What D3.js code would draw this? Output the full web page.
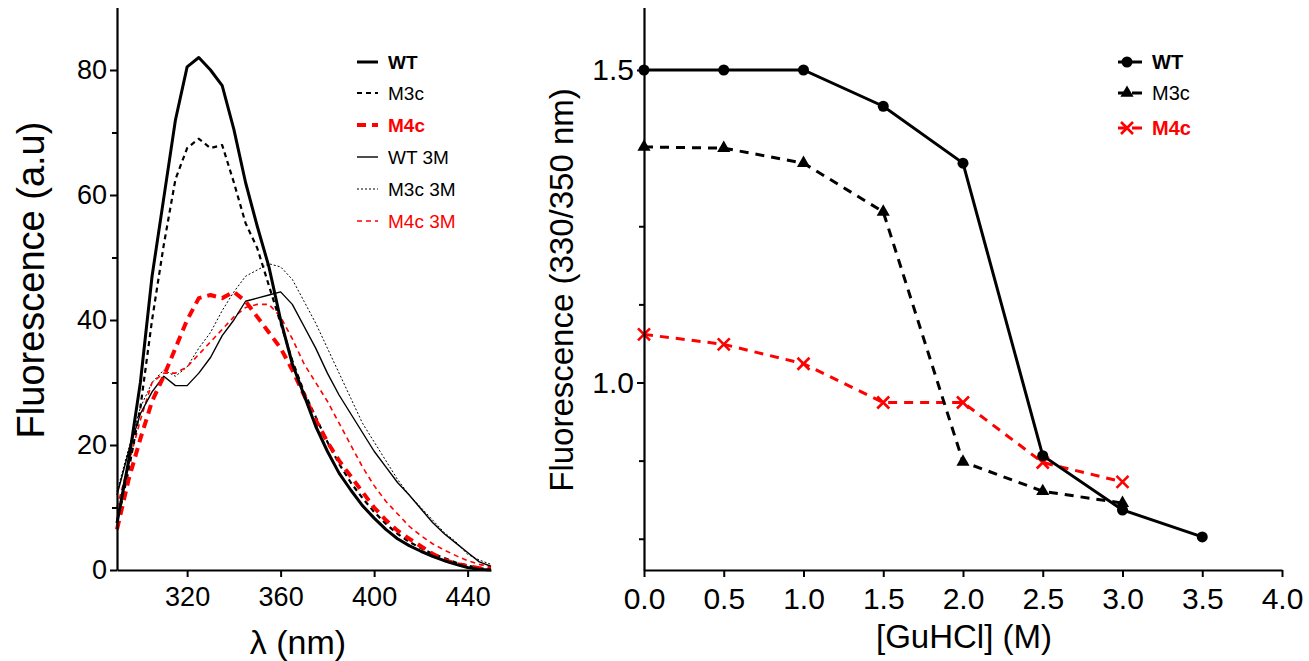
<!DOCTYPE html>
<html>
<head>
<meta charset="utf-8">
<script src="https://cdn.jsdelivr.net/npm/d3@7/dist/d3.min.js"></script>
<style>
  body { margin: 0; background: #fff; }
  svg { display: block; }
  text { font-family: "Liberation Sans", Arial, sans-serif; }
</style>
</head>
<body>
<svg width="1309" height="661"></svg>
<script>
// ---- data: emission spectra (left) ----
const lambda = [290, 295, 300, 305, 310, 315, 320, 325, 330, 335, 340, 345, 350, 355, 360, 365, 370,
  375, 380, 385, 390, 395, 400, 405, 410, 415, 420, 425, 430, 435, 440, 445, 450];
const specWT = [7.5, 17.5, 30, 47, 59.5, 72, 80.5, 82, 80, 77.5, 70.5, 62, 55, 48.5, 40, 33, 28,
  23, 19, 15.5, 12.8, 10.3, 8.3, 6.5, 5, 3.9, 3, 2.2, 1.5, 0.9, 0.4, 0.1, 0];
const specM3c = [7.5, 16, 26, 40, 52, 62.5, 67.5, 69, 67.5, 68, 62, 55.5, 51.5, 45.5, 39.5, 33.5, 28.5,
  24.5, 20.5, 17, 14, 11.5, 9.3, 7.4, 5.8, 4.5, 3.5, 2.6, 1.9, 1.2, 0.7, 0.3, 0.1];
const specM4c = [6.5, 14.5, 21, 27, 31, 35.5, 40, 43.5, 44, 43.5, 44.5, 43, 40.5, 38, 35.5, 32, 28,
  24, 20.5, 17.5, 15, 12.5, 10, 8, 6.3, 5, 3.8, 2.6, 1.6, 1, 0.6, 0.3, 0.2];
const specWT3M = [12, 19, 25, 28.5, 31, 29.5, 29.5, 31.5, 34, 37.5, 40, 43, 43.5, 44, 44.5, 42.5, 39,
  35.5, 31.5, 28, 25, 22, 19, 16.5, 14, 12, 9.8, 7.6, 5.8, 4.3, 2.8, 1.3, 0.6];
const specM3c3M = [12.5, 19.5, 26, 30, 32, 31, 32.5, 35.5, 38, 41.5, 44.5, 47, 48, 49, 48.5, 46.5, 43,
  39.5, 35.5, 31.5, 27.5, 23.5, 20.5, 17.5, 14.5, 12, 10, 8, 6, 4.5, 2.5, 1.6, 0.9];
const specM4c3M = [10, 17, 24, 30, 31.5, 31.5, 32.5, 34.5, 36.5, 38.5, 40.5, 42, 42.5, 42.5, 40.5, 37, 33,
  30, 27, 23.5, 20, 16.5, 13.5, 11, 9, 7, 5.5, 4.2, 3.2, 2.3, 1.5, 0.9, 0.5];
const spectraNames = ["WT", "M3c", "M4c", "WT 3M", "M3c 3M", "M4c 3M"];
const spectraValues = [specWT, specM3c, specM4c, specWT3M, specM3c3M, specM4c3M];
const lambdaTicks = [320, 360, 400, 440];
const fluoTicks = [0, 20, 40, 60, 80];
const fluoMinor = [10, 30, 50, 70];

// ---- data: GuHCl denaturation (right) ----
const guhcl = [0, 0.5, 1.0, 1.5, 2.0, 2.5, 3.0, 3.5];
const ratioWT = [1.5, 1.5, 1.5, 1.442, 1.351, 0.883, 0.796, 0.753];
const ratioM3c = [1.377, 1.375, 1.351, 1.273, 0.873, 0.826, 0.807];
const ratioM4c = [1.077, 1.061, 1.03, 0.968, 0.968, 0.872, 0.841];
const ratioNames = ["WT", "M3c", "M4c"];
const ratioValues = [ratioWT, ratioM3c, ratioM4c];
const guTicks = [0, 0.5, 1.0, 1.5, 2.0, 2.5, 3.0, 3.5, 4.0];
const ratioTicks = [1.0, 1.5];
const ratioMinor = [0.75, 0.875, 1.125, 1.25, 1.375];

// ---- styles ----
const specStyle = {
  "WT":     { color: "#000", width: 3,   dash: null,  bold: true },
  "M3c":    { color: "#000", width: 2.2, dash: "5,4", bold: false },
  "M4c":    { color: "#f00", width: 4,   dash: "9,6", bold: true },
  "WT 3M":  { color: "#000", width: 1.4, dash: null,  bold: false },
  "M3c 3M": { color: "#000", width: 1,   dash: "2,2", bold: false },
  "M4c 3M": { color: "#f00", width: 1.6, dash: "5,4", bold: false }
};
const ratioStyle = {
  "WT":  { color: "#000", dash: null,  bold: true },
  "M3c": { color: "#000", dash: "9,7", bold: false },
  "M4c": { color: "#f00", dash: "9,7", bold: true }
};

const svg = d3.select("svg");

function styleAxis(g) {
  g.select(".domain").attr("stroke", "#000").attr("stroke-width", 2.2);
  g.selectAll(".tick line").attr("stroke", "#000").attr("stroke-width", 2);
}

// ================= LEFT PANEL =================
const xL = d3.scaleLinear().domain([290, 450]).range([117, 491]);
const yL = d3.scaleLinear().domain([0, 90]).range([570, 7.5]);

const left = svg.append("g");

const line = d3.line()
  .x((d, i) => xL(lambda[i]))
  .y(d => yL(d));

// draw thin curves first, thick ones on top
const drawOrder = [4, 5, 3, 1, 2, 0];
drawOrder.forEach(k => {
  const st = specStyle[spectraNames[k]];
  left.append("path")
    .datum(spectraValues[k])
    .attr("d", line)
    .attr("fill", "none")
    .attr("stroke", st.color)
    .attr("stroke-width", st.width)
    .attr("stroke-dasharray", st.dash)
    .attr("stroke-linejoin", "round");
});

const xAxL = left.append("g")
  .attr("transform", "translate(0,570)")
  .call(d3.axisBottom(xL).tickValues(lambdaTicks).tickSize(7).tickSizeOuter(0).tickPadding(10));
styleAxis(xAxL);
xAxL.selectAll("text").attr("font-size", 27).attr("fill", "#000");

const yAxL = left.append("g")
  .attr("transform", "translate(117,0)")
  .call(d3.axisLeft(yL).tickValues(fluoTicks).tickSize(7).tickSizeOuter(0).tickPadding(3));
styleAxis(yAxL);
yAxL.selectAll("text").attr("font-size", 27).attr("fill", "#000");

const yMinL = left.append("g")
  .attr("transform", "translate(117,0)")
  .call(d3.axisLeft(yL).tickValues(fluoMinor).tickSize(5).tickFormat(""));
yMinL.select(".domain").remove();
styleAxis(yMinL);

left.append("text")
  .attr("transform", "translate(44,280) rotate(-90)")
  .attr("text-anchor", "middle")
  .attr("font-size", 38)
  .text("Fluorescence (a.u)");

left.append("text")
  .attr("x", 298).attr("y", 654)
  .attr("text-anchor", "middle")
  .attr("font-size", 34)
  .text("λ (nm)");

// left legend
const legL = left.append("g");
const legLY = [62, 93, 125, 157, 189, 221];
spectraNames.forEach((name, i) => {
  const st = specStyle[name];
  legL.append("line")
    .attr("x1", 357).attr("x2", 378)
    .attr("y1", legLY[i]).attr("y2", legLY[i])
    .attr("stroke", st.color)
    .attr("stroke-width", st.width)
    .attr("stroke-dasharray", st.dash);
  legL.append("text")
    .attr("x", 388).attr("y", legLY[i] + 7)
    .attr("font-size", 19)
    .attr("font-weight", st.bold ? "bold" : "normal")
    .attr("fill", st.color)
    .text(name);
});

// ================= RIGHT PANEL =================
const xR = d3.scaleLinear().domain([0, 4]).range([644, 1282]);
const yR = d3.scaleLinear().domain([0.7, 1.6]).range([570, 7.5]);

const right = svg.append("g");

const lineR = d3.line()
  .x((d, i) => xR(guhcl[i]))
  .y(d => yR(d));

function drawMarker(g, name, cx, cy) {
  const st = ratioStyle[name];
  if (name === "WT") {
    g.append("circle").attr("cx", cx).attr("cy", cy).attr("r", 5.5).attr("fill", st.color);
  } else if (name === "M3c") {
    g.append("path")
      .attr("d", d3.symbol().type(d3.symbolTriangle).size(75)())
      .attr("transform", `translate(${cx},${cy})`)
      .attr("fill", st.color);
  } else {
    const s = 6;
    g.append("path")
      .attr("d", `M${cx - s},${cy - s}L${cx + s},${cy + s}M${cx - s},${cy + s}L${cx + s},${cy - s}`)
      .attr("stroke", st.color).attr("stroke-width", 2.6).attr("fill", "none");
  }
}

[2, 1, 0].forEach(k => {
  const name = ratioNames[k];
  const st = ratioStyle[name];
  right.append("path")
    .datum(ratioValues[k])
    .attr("d", lineR)
    .attr("fill", "none")
    .attr("stroke", st.color)
    .attr("stroke-width", 3)
    .attr("stroke-dasharray", st.dash);
  ratioValues[k].forEach((v, i) => drawMarker(right, name, xR(guhcl[i]), yR(v)));
});

const xAxR = right.append("g")
  .attr("transform", "translate(0,570)")
  .call(d3.axisBottom(xR).tickValues(guTicks).tickSize(7).tickSizeOuter(0).tickPadding(11)
    .tickFormat(d3.format(".1f")));
styleAxis(xAxR);
xAxR.selectAll("text").attr("font-size", 30).attr("fill", "#000");

const yAxR = right.append("g")
  .attr("transform", "translate(644,0)")
  .call(d3.axisLeft(yR).tickValues(ratioTicks).tickSize(7).tickSizeOuter(0).tickPadding(3)
    .tickFormat(d3.format(".1f")));
styleAxis(yAxR);
yAxR.selectAll("text").attr("font-size", 30).attr("fill", "#000");

const yMinR = right.append("g")
  .attr("transform", "translate(644,0)")
  .call(d3.axisLeft(yR).tickValues(ratioMinor).tickSize(5).tickFormat(""));
yMinR.select(".domain").remove();
styleAxis(yMinR);

right.append("text")
  .attr("transform", "translate(573,290) rotate(-90)")
  .attr("text-anchor", "middle")
  .attr("font-size", 33)
  .text("Fluorescence (330/350 nm)");

right.append("text")
  .attr("x", 964).attr("y", 648)
  .attr("text-anchor", "middle")
  .attr("font-size", 33)
  .text("[GuHCl] (M)");

// right legend
const legR = right.append("g");
const legRY = [62, 93, 128];
ratioNames.forEach((name, i) => {
  const st = ratioStyle[name];
  legR.append("line")
    .attr("x1", 1118).attr("x2", 1142)
    .attr("y1", legRY[i]).attr("y2", legRY[i])
    .attr("stroke", st.color)
    .attr("stroke-width", 3)
    .attr("stroke-dasharray", st.dash ? "10,4" : null);
  drawMarker(legR, name, 1127, legRY[i]);
  legR.append("text")
    .attr("x", 1152).attr("y", legRY[i] + 7)
    .attr("font-size", 20)
    .attr("font-weight", st.bold ? "bold" : "normal")
    .attr("fill", st.color)
    .text(name);
});
</script>
</body>
</html>
